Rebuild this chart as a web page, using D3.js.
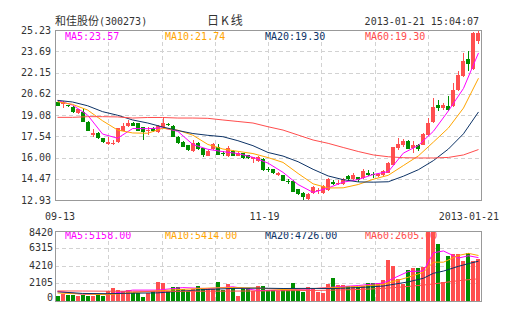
<!DOCTYPE html>
<html>
<head>
<meta charset="utf-8">
<script src="https://cdn.jsdelivr.net/npm/d3@7"></script>
<style>
html, body { margin: 0; padding: 0; background: #fff; }
svg { display: block; }
text { font-family: "DejaVu Sans Mono", "Liberation Mono", monospace; font-size: 10px; fill: #333; }
.cjk { font-family: "Noto Sans CJK SC", sans-serif; }
</style>
</head>
<body>
<svg id="chart" width="505" height="330"></svg>
<script>
// 和佳股份 (300273) daily candles, 2012-09-13 .. 2013-01-21
const dates = ["09-13","09-14","09-17","09-18","09-19","09-20","09-21","09-24","09-25","09-26","09-27","09-28",
  "10-08","10-09","10-10","10-11","10-12","10-15","10-16","10-17","10-18","10-19","10-22","10-23","10-24","10-25","10-26","10-29","10-30","10-31",
  "11-01","11-02","11-05","11-06","11-07","11-08","11-09","11-12","11-13","11-14","11-15","11-16","11-19","11-20","11-21","11-22","11-23","11-26","11-27","11-28","11-29","11-30",
  "12-03","12-04","12-05","12-06","12-07","12-10","12-11","12-12","12-13","12-14","12-17","12-18","12-19","12-20","12-21","12-24","12-25","12-26","12-27","12-28","12-31",
  "01-04","01-07","01-08","01-09","01-10","01-11","01-14","01-15","01-16","01-17","01-18","01-21"];

const open  = [20.04,19.87,19.77,19.68,19.20,19.32,18.60,17.63,17.80,17.39,16.98,17.03,17.10,17.94,18.28,18.52,18.48,18.19,17.95,18.17,
  17.87,18.19,18.40,18.28,17.52,17.15,16.88,16.50,17.05,16.67,16.14,16.62,16.79,16.33,16.14,16.50,16.14,16.31,16.19,15.87,
  15.73,15.87,15.15,15.15,14.72,14.72,14.27,14.33,13.70,13.46,12.98,13.41,13.58,13.46,13.65,14.25,14.16,14.09,14.67,14.43,
  14.57,14.50,14.86,14.84,14.67,14.76,14.88,15.48,16.69,16.89,17.18,16.69,16.89,16.93,17.61,18.57,19.78,19.59,19.75,19.71,
  20.91,21.88,23.15,22.43,24.41];
const close = [19.75,20.04,19.72,19.28,19.51,18.60,17.94,17.80,17.44,17.10,17.15,17.06,18.12,18.28,18.48,18.30,17.94,17.87,17.98,17.90,
  18.28,18.52,18.36,17.52,17.06,16.79,16.55,17.03,16.60,16.19,16.50,16.98,16.19,16.29,16.67,16.14,16.35,15.95,15.95,16.02,
  16.02,15.10,15.12,14.86,14.91,14.33,14.23,13.53,13.36,13.12,13.36,13.89,13.62,13.94,14.43,14.09,14.19,14.43,14.43,14.74,
  14.38,15.05,14.72,14.74,14.80,15.05,15.61,16.74,16.98,17.22,16.64,16.93,16.64,17.71,18.50,19.64,19.59,19.78,19.46,20.91,
  22.00,22.97,22.79,25.01,24.99];
const high  = [20.10,20.08,19.80,19.72,19.55,19.51,18.65,18.05,17.85,17.42,17.51,17.27,18.15,18.48,18.72,18.60,18.52,18.22,18.19,18.22,
  18.35,18.91,18.50,18.35,17.56,17.20,16.91,17.30,17.10,16.70,16.55,17.08,16.95,16.45,16.84,16.55,16.40,16.35,16.22,16.07,
  16.10,15.95,15.30,15.20,14.95,14.76,14.43,14.38,13.75,13.50,13.41,13.95,13.80,14.00,14.50,14.38,14.38,14.50,14.72,14.91,
  14.62,15.15,15.10,14.95,14.86,15.10,15.66,16.80,17.41,17.35,17.25,17.18,16.95,17.78,18.86,20.31,20.19,19.95,20.43,21.40,
  22.24,23.57,23.69,25.10,25.23];
const low   = [19.70,19.61,19.68,19.25,19.15,18.55,17.90,17.51,17.34,17.05,16.91,16.91,17.05,17.90,18.21,18.25,17.90,17.27,17.63,17.85,
  17.80,18.15,18.25,17.48,17.00,16.75,16.50,16.40,16.55,16.02,16.10,16.58,16.15,16.10,16.07,16.10,16.10,15.90,15.90,15.63,
  15.70,15.05,14.95,14.82,14.70,14.30,14.09,13.50,13.32,12.93,12.95,13.36,13.36,13.40,13.60,14.05,14.02,14.05,14.40,14.38,
  14.20,14.45,14.67,14.55,14.60,14.70,14.85,15.45,16.57,16.80,16.60,16.33,16.45,16.88,17.55,18.50,19.39,19.46,19.40,19.66,
  20.85,21.80,22.29,22.35,24.22];
const volume = [580,820,620,620,500,640,600,580,640,580,1110,1500,1260,1110,1260,900,900,420,900,1180,
  2230,2100,1110,1590,1590,1380,1110,1380,1740,1500,1420,1420,2260,1300,1980,1500,500,1500,1500,1180,
  1780,1780,1300,1300,1110,1300,1300,2140,1300,1020,1620,1420,990,900,2020,2710,1900,1830,1780,1710,
  1590,1710,2100,2100,2100,2500,4900,4190,2630,2020,3720,3960,3960,4035,8300,8420,6780,2250,5300,5600,
  5600,4700,5700,4800,4990];

// moving-average curves of the price panel, sampled every third session
const maIdx = [0,3,6,9,12,15,18,21,24,27,30,33,36,39,42,45,48,51,54,57,60,63,66,69,72,75,78,81,84];
const ma5  = [20.13,19.80,19.08,17.70,17.40,18.10,18.09,18.15,17.90,16.95,16.60,16.43,16.29,16.02,15.60,14.93,14.05,13.48,13.80,14.22,14.41,14.78,14.98,16.32,16.88,17.90,19.38,21.00,23.57];
const ma10 = [20.04,19.85,19.44,18.66,17.99,17.78,17.76,18.12,17.98,17.62,16.95,16.62,16.45,16.29,16.00,15.65,14.85,14.10,13.80,13.81,14.05,14.43,14.72,15.42,16.12,17.12,18.14,19.58,21.74];
const ma20 = [20.14,20.02,19.75,19.32,19.06,18.72,18.50,18.21,17.96,17.74,17.61,17.51,17.22,16.86,16.37,16.11,15.70,15.15,14.67,14.40,14.24,14.22,14.25,14.65,15.12,15.78,16.62,17.72,19.30];
const ma60 = [18.91,18.91,18.96,18.96,18.94,18.86,18.90,18.90,18.86,18.86,18.84,18.72,18.61,18.50,18.23,17.99,17.63,17.27,17.03,16.73,16.44,16.19,16.06,15.99,15.97,15.97,16.01,16.19,16.58];

// moving-average curves of the volume panel
const volIdx = [0,5,10,15,20,25,30,35,40,45,50,55,60,65,70,73,75,77,80,82,84];
const vma5  = [1100,750,740,1250,1250,1554,1430,1650,1200,1270,1370,1608,1800,2100,3490,3539,5735,5957,5106,5380,5158];
const vma10 = [900,780,700,954,1166,1340,1492,1561,1492,1325,1417,1542,1685,1932,2797,3402,4614,4608,5421,5669,5414];
const vma20 = [1050,850,820,880,918,1147,1329,1450,1492,1443,1455,1434,1551,1737,2241,2673,3273,3538,4109,4438,4726];
const vma60 = [1150,1140,1120,1110,1100,1110,1120,1130,1150,1170,1200,1250,1325,1450,1690,1860,1990,2150,2380,2500,2605];

const priceTicks = [25.23,23.69,22.15,20.62,19.08,17.54,16.00,14.47,12.93];
const volTicks = [8420,6315,4210,2105,0];
const dateTickDates = ["09-13","11-19","01-21"];
const dateTickText = ["09-13","11-19","2013-01-21"];

const maNames = ["MA5","MA10","MA20","MA60"];
const priceMaText = ["23.57","21.74","19.30","19.30"];
const volMaText = ["5158.00","5414.00","4726.00","2605.00"];
const maColors = ["#ff00ff","#ffa500","#0d3366","#ff4d4d"];
const upColor = "#ff4f4f", downColor = "#008f00";

const title = "和佳股份";
const code = "(300273)";
const chartType = "日K线";
const stamp = "2013-01-21 15:04:07";

// ---- layout ----
const L = 55, R = 481;
const pTop = 30, pBot = 200;
const vTop = 230.5, vBot = 300.5;

const svg = d3.select("#chart");

const x = d3.scaleBand().domain(d3.range(dates.length)).range([L, R]).paddingInner(0.2).paddingOuter(0.1);
const xc = i => x(i) + x.bandwidth() / 2;
const y = d3.scaleLinear().domain([priceTicks[priceTicks.length - 1], priceTicks[0]]).range([pBot, pTop]);
const yv = d3.scaleLinear().domain([0, volTicks[0]]).range([vBot, vTop]);
const cols = d3.scaleLinear().domain([0, 8]).range([L, R]);

function grid(top, bot, yScale, ticks) {
  const g = svg.append("g");
  // horizontal dashed lines
  g.append("g").attr("transform", `translate(${L},0)`)
    .call(d3.axisLeft(yScale).tickValues(ticks.slice(1, -1)).tickSize(-(R - L)).tickFormat(""))
    .call(s => s.select(".domain").remove())
    .call(s => s.selectAll("line").attr("stroke", "#d2d2d2").attr("stroke-dasharray", "4,3").attr("shape-rendering", "crispEdges"));
  // vertical dashed lines
  g.append("g").attr("transform", `translate(0,${bot})`)
    .call(d3.axisBottom(cols).tickValues(d3.range(1, 8)).tickSize(-(bot - top)).tickFormat(""))
    .call(s => s.select(".domain").remove())
    .call(s => s.selectAll("line").attr("stroke", "#d2d2d2").attr("stroke-dasharray", "4,3").attr("shape-rendering", "crispEdges"));
}
grid(pTop, pBot, y, priceTicks);
grid(vTop, vBot, yv, volTicks);

// MA legends
function legend(yPos, values) {
  const g = svg.append("g");
  maNames.forEach((n, k) => {
    g.append("text").attr("x", L + 10 + k * 100).attr("y", yPos).attr("dy", "0.35em")
      .style("fill", maColors[k]).text(n + ":" + values[k]);
  });
}
legend(36.5, priceMaText);
legend(235.5, volMaText);

// candles
const candles = svg.append("g").attr("shape-rendering", "crispEdges");
const idx = d3.range(dates.length);
candles.selectAll("rect.wick").data(idx).join("rect")
  .attr("x", i => Math.round(x(i)) + 2).attr("width", 1)
  .attr("y", i => Math.round(y(high[i])))
  .attr("height", i => Math.max(1, Math.round(y(low[i])) - Math.round(y(high[i]))))
  .attr("fill", i => close[i] >= open[i] ? upColor : downColor);
candles.selectAll("rect.body").data(idx).join("rect")
  .attr("x", i => Math.round(x(i))).attr("width", 4)
  .attr("y", i => Math.round(y(Math.max(open[i], close[i]))))
  .attr("height", i => Math.max(1, Math.round(y(Math.min(open[i], close[i]))) - Math.round(y(Math.max(open[i], close[i])))))
  .attr("fill", i => close[i] >= open[i] ? upColor : downColor);

// volume bars
svg.append("g").attr("shape-rendering", "crispEdges")
  .selectAll("rect").data(idx).join("rect")
  .attr("x", i => Math.round(x(i))).attr("width", 4)
  .attr("y", i => Math.round(yv(volume[i])))
  .attr("height", i => Math.round(vBot) - Math.round(yv(volume[i])))
  .attr("fill", i => close[i] >= open[i] ? upColor : downColor);

// moving-average lines
const priceLine = d3.line().x(d => xc(d[0])).y(d => y(d[1]));
[ma5, ma10, ma20, ma60].forEach((arr, k) => {
  svg.append("path").datum(maIdx.map((i, j) => [i, arr[j]]))
    .attr("d", priceLine).attr("fill", "none").attr("stroke", maColors[k]).attr("stroke-width", 1);
});
const volLine = d3.line().x(d => xc(d[0])).y(d => yv(d[1]));
[vma5, vma10, vma20, vma60].forEach((arr, k) => {
  svg.append("path").datum(volIdx.map((i, j) => [i, arr[j]]))
    .attr("d", volLine).attr("fill", "none").attr("stroke", maColors[k]).attr("stroke-width", 1);
});

// panel frames
[[pTop, pBot], [vTop, vBot]].forEach(([t, b]) => {
  svg.append("rect").attr("x", L + 0.5).attr("y", Math.round(t) + 0.5)
    .attr("width", R - L).attr("height", Math.round(b) - Math.round(t))
    .attr("fill", "none").attr("stroke", "#999");
});

// price axis labels
svg.append("g").attr("transform", `translate(${L - 4},0)`)
  .call(d3.axisLeft(y).tickValues(priceTicks).tickSize(0).tickPadding(0).tickFormat(d3.format(".2f")))
  .call(s => s.select(".domain").remove())
  .call(s => s.selectAll("text").attr("font-family", null).attr("font-size", null).style("fill", "#333"));

// volume axis labels, edge labels pulled inside the frame
svg.append("g").attr("transform", `translate(${L - 2},0)`)
  .call(d3.axisLeft(yv).tickValues(volTicks).tickSize(0).tickPadding(0).tickFormat(d3.format("d")))
  .call(s => s.select(".domain").remove())
  .call(s => s.selectAll(".tick").attr("transform", d => `translate(0,${Math.min(vBot - 3, Math.max(vTop + 2.5, yv(d)))})`))
  .call(s => s.selectAll("text").attr("font-family", null).attr("font-size", null).style("fill", "#333"));

// date labels
const dateG = svg.append("g");
dateTickDates.forEach((d, k) => {
  const i = dates.lastIndexOf(d);
  const w = dateTickText[k].length * 6.02;
  const cx = Math.min(499 - w / 2, Math.max(45 + w / 2, xc(i) - (k === 1 ? 3.5 : 0)));
  dateG.append("text").attr("x", cx).attr("y", 216.5).attr("dy", "0.35em")
    .attr("text-anchor", "middle").text(dateTickText[k]);
});

// header
const head = svg.append("text").attr("x", L).attr("y", 21).attr("dy", "0.35em");
head.append("tspan").attr("class", "cjk").style("font-size", "11px").style("fill", "#333").text(title);
head.append("tspan").style("fill", "#333").text(code);
svg.append("text").attr("class", "cjk").attr("x", 207).attr("y", 21).attr("dy", "0.35em")
  .style("font-size", "12px").style("letter-spacing", "2px").style("fill", "#333").text(chartType);
svg.append("text").attr("x", 479).attr("y", 21).attr("dy", "0.35em").attr("text-anchor", "end").text(stamp);
</script>
</body>
</html>
